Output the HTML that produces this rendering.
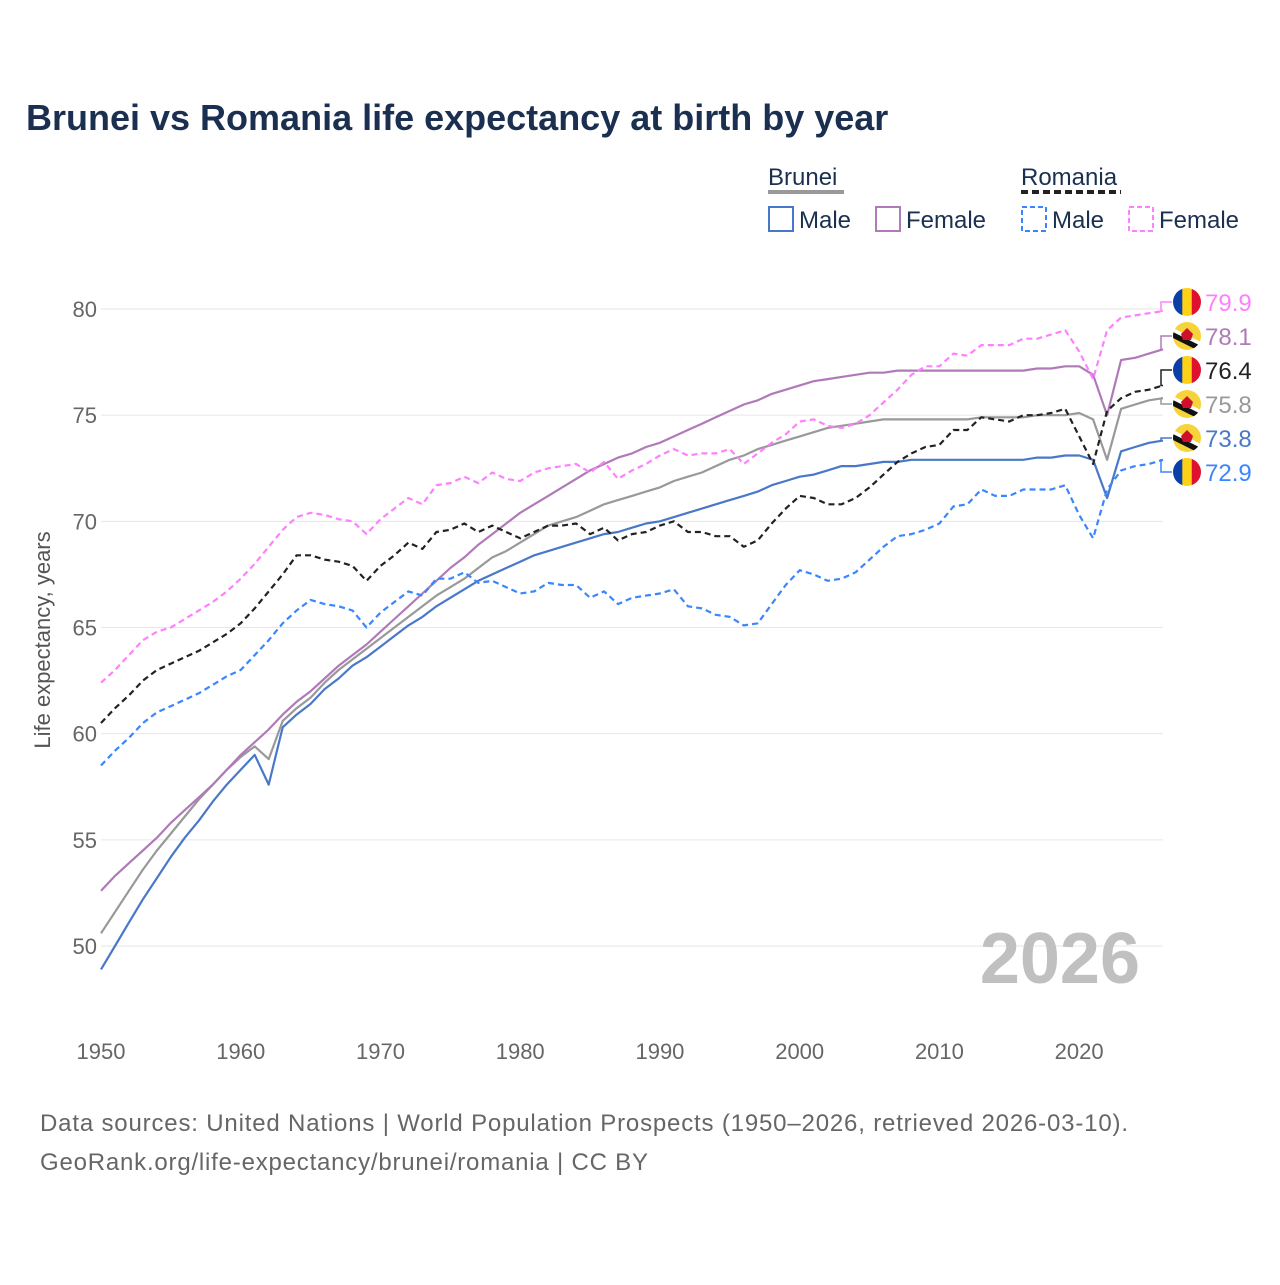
<!DOCTYPE html>
<html><head><meta charset="utf-8"><style>
body{margin:0;background:#fff;font-family:"Liberation Sans",sans-serif}
svg text{font-family:"Liberation Sans",sans-serif}
</style></head><body>
<svg id="chart" width="1280" height="1280" viewBox="0 0 1280 1280" xmlns="http://www.w3.org/2000/svg">
<rect width="1280" height="1280" fill="#fff"/>
<text x="26" y="130" font-size="36" font-weight="bold" fill="#1b3050">Brunei vs Romania life expectancy at birth by year</text>
<g>
<text x="768" y="185" font-size="24" fill="#1b3050">Brunei</text>
<line x1="768" y1="192" x2="844" y2="192" stroke="#999" stroke-width="4"/>
<text x="1021" y="185" font-size="24" fill="#1b3050">Romania</text>
<line x1="1021" y1="192" x2="1121" y2="192" stroke="#222" stroke-width="4" stroke-dasharray="7,4"/>
<g><rect x="769" y="207" width="24" height="24" fill="none" stroke="#4a78c8" stroke-width="2"/><text x="799" y="228" font-size="24" fill="#1b3050">Male</text></g>
<g><rect x="876" y="207" width="24" height="24" fill="none" stroke="#b07ab8" stroke-width="2"/><text x="906" y="228" font-size="24" fill="#1b3050">Female</text></g>
<g><rect x="1022" y="207" width="24" height="24" fill="none" stroke="#3a86ff" stroke-width="2" stroke-dasharray="5,3"/><text x="1052" y="228" font-size="24" fill="#1b3050">Male</text></g>
<g><rect x="1129" y="207" width="24" height="24" fill="none" stroke="#ff80ff" stroke-width="2" stroke-dasharray="5,3"/><text x="1159" y="228" font-size="24" fill="#1b3050">Female</text></g>
</g>
<g id="grid"></g>
<g id="axes"></g>
<text x="1140" y="983" font-size="72" font-weight="bold" fill="#c0c0c0" text-anchor="end">2026</text>
<text transform="translate(50,640) rotate(-90)" font-size="22" fill="#555" text-anchor="middle">Life expectancy, years</text>
<g id="series"></g>
<g id="labels"></g>
<text x="40" y="1131" font-size="24" fill="#666" textLength="1088" lengthAdjust="spacing">Data sources: United Nations | World Population Prospects (1950–2026, retrieved 2026-03-10).</text>
<text x="40" y="1170" font-size="24" fill="#666" textLength="608" lengthAdjust="spacing">GeoRank.org/life-expectancy/brunei/romania | CC BY</text>
</svg>
<script>
const startYear = 1950;
const xTicks = [1950,1960,1970,1980,1990,2000,2010,2020];
const yTicks = [50,55,60,65,70,75,80];
const bruneiMale = [48.9,50.0,51.1,52.2,53.2,54.2,55.1,55.9,56.8,57.6,58.3,
59.0,57.6,60.3,60.9,61.4,62.1,62.6,63.2,63.6,64.1,
64.6,65.1,65.5,66.0,66.4,66.8,67.2,67.5,67.8,68.1,
68.4,68.6,68.8,69.0,69.2,69.4,69.5,69.7,69.9,70.0,
70.2,70.4,70.6,70.8,71.0,71.2,71.4,71.7,71.9,72.1,
72.2,72.4,72.6,72.6,72.7,72.8,72.8,72.9,72.9,72.9,
72.9,72.9,72.9,72.9,72.9,72.9,73.0,73.0,73.1,73.1,
72.9,71.1,73.3,73.5,73.7,73.8];
const bruneiTotal = [50.6,51.6,52.6,53.6,54.5,55.3,56.1,56.9,57.6,58.3,58.9,
59.4,58.8,60.6,61.2,61.7,62.4,63.0,63.5,64.0,64.5,
65.0,65.5,66.0,66.5,66.9,67.3,67.8,68.3,68.6,69.0,
69.4,69.8,70.0,70.2,70.5,70.8,71.0,71.2,71.4,71.6,
71.9,72.1,72.3,72.6,72.9,73.1,73.4,73.6,73.8,74.0,
74.2,74.4,74.5,74.6,74.7,74.8,74.8,74.8,74.8,74.8,
74.8,74.8,74.9,74.9,74.9,74.9,75.0,75.0,75.0,75.1,
74.8,72.9,75.3,75.5,75.7,75.8];
const bruneiFemale = [52.6,53.3,53.9,54.5,55.1,55.8,56.4,57.0,57.6,58.3,59.0,
59.6,60.2,60.9,61.5,62.0,62.6,63.2,63.7,64.2,64.8,
65.4,66.0,66.6,67.2,67.8,68.3,68.9,69.4,69.9,70.4,
70.8,71.2,71.6,72.0,72.4,72.7,73.0,73.2,73.5,73.7,
74.0,74.3,74.6,74.9,75.2,75.5,75.7,76.0,76.2,76.4,
76.6,76.7,76.8,76.9,77.0,77.0,77.1,77.1,77.1,77.1,
77.1,77.1,77.1,77.1,77.1,77.1,77.2,77.2,77.3,77.3,
76.9,75.0,77.6,77.7,77.9,78.1];
const romaniaTotal = [60.5,61.2,61.8,62.5,63.0,63.3,63.6,63.9,64.3,64.7,65.2,
65.9,66.7,67.5,68.4,68.4,68.2,68.1,67.9,67.2,67.9,
68.4,69.0,68.7,69.5,69.6,69.9,69.5,69.8,69.5,69.2,
69.5,69.8,69.8,69.9,69.4,69.7,69.1,69.4,69.5,69.8,
70.0,69.5,69.5,69.3,69.3,68.8,69.1,69.9,70.6,71.2,
71.1,70.8,70.8,71.1,71.6,72.2,72.8,73.2,73.5,73.6,
74.3,74.3,74.9,74.8,74.7,75.0,75.0,75.1,75.3,74.0,
72.7,75.2,75.8,76.1,76.2,76.4];
const romaniaMale = [58.5,59.2,59.8,60.5,61.0,61.3,61.6,61.9,62.3,62.7,63.0,
63.7,64.4,65.2,65.8,66.3,66.1,66.0,65.8,65.0,65.7,
66.2,66.7,66.5,67.3,67.3,67.6,67.1,67.2,66.9,66.6,
66.7,67.1,67.0,67.0,66.4,66.7,66.1,66.4,66.5,66.6,
66.8,66.0,65.9,65.6,65.5,65.1,65.2,66.1,67.0,67.7,
67.5,67.2,67.3,67.6,68.2,68.8,69.3,69.4,69.6,69.9,
70.7,70.8,71.5,71.2,71.2,71.5,71.5,71.5,71.7,70.3,
69.2,71.5,72.4,72.6,72.7,72.9];
const romaniaFemale = [62.4,63.0,63.7,64.4,64.8,65.0,65.4,65.8,66.2,66.7,67.3,
68.0,68.8,69.6,70.2,70.4,70.3,70.1,70.0,69.4,70.1,
70.6,71.1,70.8,71.7,71.8,72.1,71.8,72.3,72.0,71.9,
72.3,72.5,72.6,72.7,72.3,72.8,72.0,72.4,72.7,73.1,
73.4,73.1,73.2,73.2,73.4,72.7,73.2,73.7,74.1,74.7,
74.8,74.5,74.4,74.6,75.0,75.6,76.2,76.9,77.3,77.3,
77.9,77.8,78.3,78.3,78.3,78.6,78.6,78.8,79.0,78.0,
76.7,79.0,79.6,79.7,79.8,79.9];

const NS="http://www.w3.org/2000/svg";
const X0=101, X1=1163, Y50=946, Y80=309;
function xs(year){return X0+(year-1950)*(X1-X0)/76;}
function ys(v){return Y50+(v-50)*(Y80-Y50)/30;}
function mk(tag,attrs,parent){const e=document.createElementNS(NS,tag);for(const k in attrs)e.setAttribute(k,attrs[k]);parent.appendChild(e);return e;}
const grid=document.getElementById('grid'), axes=document.getElementById('axes');
yTicks.forEach(t=>{
  const l=mk('line',{x1:X0,x2:X1,y1:ys(t),y2:ys(t),stroke:'#e6e6e6','stroke-width':1},grid);
  
  
  const tx=mk('text',{x:97,y:ys(t)+8,'font-size':22,fill:'#666','text-anchor':'end'},axes);
  tx.textContent=t;
  
  
});
xTicks.forEach(t=>{
  const tx=mk('text',{x:xs(t),y:1059,'font-size':22,fill:'#666','text-anchor':'middle'},axes);
  tx.textContent=t;
  
  
});
const seriesG=document.getElementById('series');
const defs=[
 [bruneiMale,'#4a78c8','', 'brunei-male-line'],
 [bruneiTotal,'#999','', 'brunei-total-line'],
 [bruneiFemale,'#b07ab8','', 'brunei-female-line'],
 [romaniaMale,'#3a86ff','6,4', 'romania-male-line'],
 [romaniaFemale,'#ff80ff','6,4', 'romania-female-line'],
 [romaniaTotal,'#222','6,4', 'romania-total-line']
];
defs.forEach(([data,col,dash,name])=>{
  const pts=data.map((v,i)=>xs(startYear+i).toFixed(1)+','+ys(v).toFixed(1)).join(' ');
  const p=mk('polyline',{points:pts,fill:'none',stroke:col,'stroke-width':2.2,'stroke-linejoin':'round'},seriesG);
  if(dash)p.setAttribute('stroke-dasharray',dash);
  
  
});
const labelsG=document.getElementById('labels');
const ends=[
 [romaniaFemale,'#ff80ff','ro',302],
 [bruneiFemale,'#b07ab8','bn',336],
 [romaniaTotal,'#222','ro',370],
 [bruneiTotal,'#999','bn',404],
 [bruneiMale,'#4a78c8','bn',438],
 [romaniaMale,'#3a86ff','ro',472]
];
ends.forEach(([data,col,flag,ly],i)=>{
  const v=data[data.length-1], ey=ys(v);
  const c=mk('polyline',{points:`${X1},${ey} 1161,${ey} 1161,${ly} 1172,${ly}`,fill:'none',stroke:col,'stroke-width':1.5},labelsG);
  
  
  const g=mk('g',{transform:`translate(1187,${ly})`},labelsG);
  
  
  const cid='clip'+i;
  const cp=mk('clipPath',{id:cid},g); mk('circle',{r:14},cp);
  const inner=mk('g',{'clip-path':`url(#${cid})`},g);
  if(flag==='ro'){
    mk('rect',{x:-14,y:-14,width:10,height:28,fill:'#0a3fa8'},inner);
    mk('rect',{x:-4.7,y:-14,width:9.4,height:28,fill:'#fcd116'},inner);
    mk('rect',{x:4.7,y:-14,width:10,height:28,fill:'#e0102f'},inner);
  } else {
    mk('rect',{x:-14,y:-14,width:28,height:28,fill:'#f7d33a'},inner);
    mk('polygon',{points:'-16,-9 -16,-3 16,13 16,7',fill:'#fff'},inner);
    mk('polygon',{points:'-16,-5 -16,1 16,17 16,11',fill:'#111'},inner);
    mk('path',{d:'M-6,-2 L0,-8 L6,-2 L4,4 L-4,4 Z',fill:'#d0102a'},inner);
  }
  const t=mk('text',{x:1205,y:ly+9,'font-size':24,fill:col},labelsG);
  t.textContent=v.toFixed(1);
  
  
});
</script>
</body></html>
